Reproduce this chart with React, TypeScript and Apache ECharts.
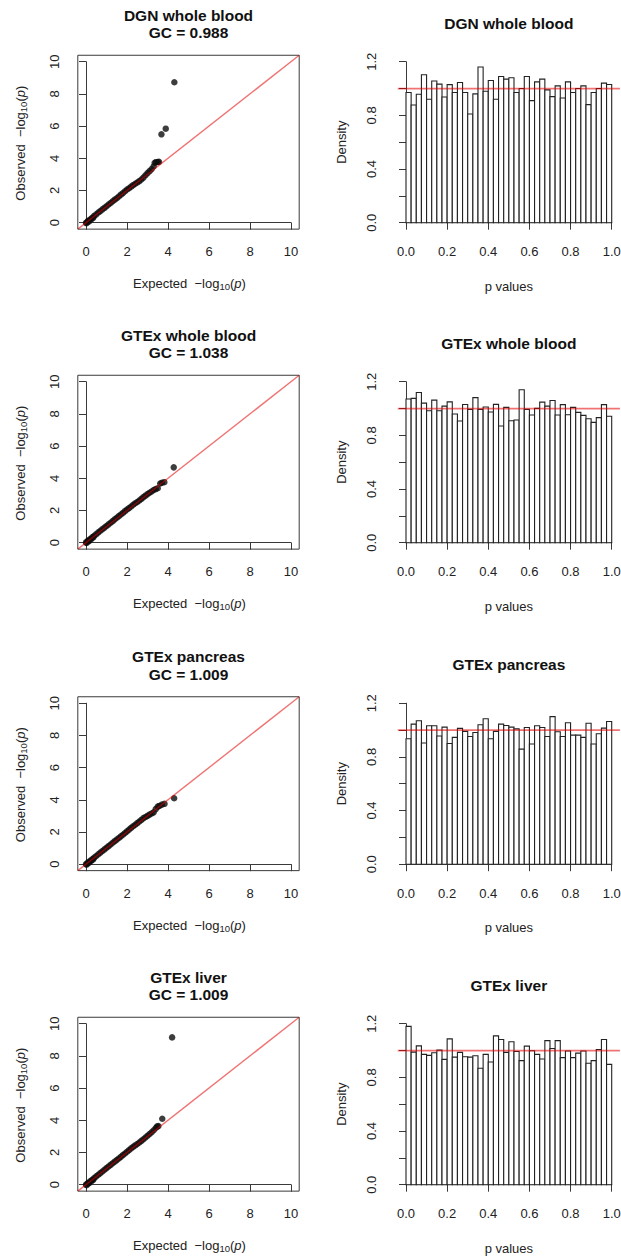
import React, { useEffect, useRef } from "react";
import * as echarts from "echarts";

const FONT = '"Liberation Sans", Arial, Helvetica, sans-serif';

// ---------- data ----------
const PANEL_NAMES = ["DGN whole blood", "GTEx whole blood", "GTEx pancreas", "GTEx liver"];
const GC_VALUES = ["0.988", "1.038", "1.009", "1.009"];

// QQ plots: [expected -log10(p), observed -log10(p)]
const QQ_DGN = [
  [0, 0.0], [0.03, -0.03], [0.08, 0.06], [0.1, 0.12], [0.15, 0.08], [0.2, 0.2], [0.25, 0.2], [0.3, 0.31],
  [0.35, 0.3], [0.4, 0.42], [0.5, 0.52], [0.6, 0.63], [0.7, 0.72], [0.8, 0.83], [0.9, 0.92], [1.0, 1.02],
  [1.1, 1.13], [1.2, 1.22], [1.3, 1.33], [1.4, 1.43], [1.5, 1.52], [1.6, 1.63], [1.7, 1.74], [1.8, 1.84],
  [1.9, 1.95], [2.0, 2.06], [2.1, 2.14], [2.2, 2.24], [2.3, 2.33], [2.4, 2.42], [2.5, 2.5], [2.6, 2.58],
  [2.7, 2.68], [2.8, 2.8], [2.9, 2.95], [3.0, 3.08], [3.1, 3.2], [3.2, 3.33], [3.3, 3.5], [3.35, 3.72],
  [3.42, 3.76], [3.5, 3.77], [3.56, 3.78], [3.68, 5.49], [3.89, 5.84], [4.31, 8.72],
];
const QQ_GTEX_BLOOD = [
  [0, 0.02], [0.03, -0.02], [0.08, 0.08], [0.1, 0.13], [0.15, 0.1], [0.2, 0.23], [0.25, 0.22], [0.3, 0.33],
  [0.35, 0.32], [0.4, 0.43], [0.5, 0.53], [0.6, 0.64], [0.7, 0.74], [0.8, 0.84], [0.9, 0.94], [1.0, 1.04],
  [1.1, 1.14], [1.2, 1.24], [1.3, 1.34], [1.4, 1.45], [1.5, 1.55], [1.6, 1.65], [1.7, 1.75], [1.8, 1.85],
  [1.9, 1.96], [2.0, 2.06], [2.1, 2.15], [2.2, 2.25], [2.3, 2.36], [2.4, 2.45], [2.5, 2.53], [2.6, 2.62],
  [2.7, 2.72], [2.8, 2.83], [2.9, 2.92], [3.0, 3.02], [3.1, 3.1], [3.2, 3.18], [3.3, 3.27], [3.4, 3.33],
  [3.5, 3.38], [3.62, 3.68], [3.7, 3.72], [3.82, 3.76], [4.28, 4.68],
];
const QQ_GTEX_PANCREAS = [
  [0, 0.01], [0.03, -0.03], [0.08, 0.06], [0.1, 0.11], [0.15, 0.09], [0.2, 0.21], [0.25, 0.2], [0.3, 0.31],
  [0.35, 0.3], [0.4, 0.41], [0.5, 0.51], [0.6, 0.62], [0.7, 0.72], [0.8, 0.82], [0.9, 0.92], [1.0, 1.02],
  [1.1, 1.12], [1.2, 1.22], [1.3, 1.33], [1.4, 1.43], [1.5, 1.53], [1.6, 1.63], [1.7, 1.73], [1.8, 1.83],
  [1.9, 1.94], [2.0, 2.04], [2.1, 2.15], [2.2, 2.26], [2.3, 2.36], [2.4, 2.45], [2.5, 2.55], [2.6, 2.65],
  [2.7, 2.75], [2.8, 2.86], [2.9, 2.93], [3.0, 3.0], [3.1, 3.08], [3.2, 3.15], [3.3, 3.22], [3.4, 3.42],
  [3.5, 3.58], [3.58, 3.62], [3.7, 3.7], [3.83, 3.75], [4.3, 4.1],
];
const QQ_GTEX_LIVER = [
  [0, 0.01], [0.03, -0.03], [0.08, 0.06], [0.1, 0.11], [0.15, 0.09], [0.2, 0.21], [0.25, 0.2], [0.3, 0.31],
  [0.35, 0.3], [0.4, 0.41], [0.5, 0.52], [0.6, 0.62], [0.7, 0.72], [0.8, 0.82], [0.9, 0.93], [1.0, 1.03],
  [1.1, 1.13], [1.2, 1.23], [1.3, 1.33], [1.4, 1.43], [1.5, 1.53], [1.6, 1.63], [1.7, 1.73], [1.8, 1.84],
  [1.9, 1.94], [2.0, 2.05], [2.1, 2.15], [2.2, 2.26], [2.3, 2.35], [2.4, 2.44], [2.5, 2.53], [2.6, 2.62],
  [2.7, 2.72], [2.8, 2.82], [2.9, 2.93], [3.0, 3.04], [3.1, 3.15], [3.2, 3.26], [3.3, 3.38], [3.4, 3.52],
  [3.47, 3.62], [3.53, 3.64], [3.72, 4.1], [4.2, 9.15],
];

// Histograms of p values: density per bin (40 bins of width 0.025 on [0, 1])
const HIST_BIN_WIDTH = 0.025;
const HIST_DGN = [
  0.97, 0.877, 0.957, 1.103, 0.92, 1.056, 1.033, 0.937, 1.029, 0.97,
  1.045, 0.97, 0.81, 0.96, 1.16, 0.98, 1.06, 0.92, 1.09, 1.07,
  1.08, 0.97, 1.0, 1.09, 0.91, 1.05, 1.07, 0.99, 0.94, 1.02,
  0.93, 1.05, 0.97, 1.0, 1.02, 0.88, 0.97, 1.0, 1.04, 1.03,
];
const HIST_GTEX_BLOOD = [
  1.071, 1.076, 1.12, 1.04, 0.984, 1.063, 0.984, 1.018, 1.05, 0.959,
  0.907, 1.03, 0.994, 1.081, 0.994, 1.011, 0.974, 1.031, 0.87, 1.009,
  0.909, 0.914, 1.14, 0.994, 0.952, 1.001, 1.048, 1.018, 1.06, 0.952,
  1.029, 0.954, 1.009, 0.971, 0.949, 0.924, 0.897, 0.932, 1.029, 0.942,
];
const HIST_GTEX_PANCREAS = [
  0.935, 1.044, 1.069, 0.903, 1.032, 1.032, 0.955, 1.022, 0.9, 0.945,
  1.012, 0.99, 0.952, 0.982, 1.039, 1.084, 0.935, 0.99, 1.044, 1.034,
  1.022, 1.009, 0.858, 1.019, 0.896, 1.032, 1.019, 0.952, 1.1, 0.987,
  0.952, 1.054, 0.962, 0.962, 0.945, 1.051, 0.896, 0.972, 1.014, 1.064,
];
const HIST_GTEX_LIVER = [
  1.18, 0.988, 1.035, 0.971, 0.964, 0.983, 1.003, 0.934, 1.087, 0.951,
  0.986, 0.954, 0.951, 0.961, 0.868, 0.971, 0.915, 1.109, 1.082, 0.986,
  1.065, 0.993, 0.925, 1.033, 0.998, 0.971, 0.937, 1.074, 1.015, 1.074,
  0.947, 0.996, 0.947, 0.981, 0.996, 0.905, 0.925, 1.008, 1.082, 0.897,
];

const QQ_SETS = [QQ_DGN, QQ_GTEX_BLOOD, QQ_GTEX_PANCREAS, QQ_GTEX_LIVER];
const HIST_SETS = [HIST_DGN, HIST_GTEX_BLOOD, HIST_GTEX_PANCREAS, HIST_GTEX_LIVER];

// axis ranges (R style: 4% extension around the data range)
const QQ_MIN = 0, QQ_MAX = 10, QQ_STEP = 2, QQ_EXT = 0.4;
const HX_MIN = 0, HX_MAX = 1, HX_STEP = 0.2, HX_EXT = 0.04;
const HY_MIN = 0, HY_MAX = 1.2, HY_STEP = 0.2, HY_EXT = 0.048;
const REF_DENSITY = 1;

// ---------- layout ----------
const W = 621, H = 1257;
const ROW_OFFSETS = [0, 320, 641.5, 962];
const QQ_INNER = { left: 86, top: 61.7, width: 205, height: 161 };
const HIST_INNER = { left: 406, top: 61.7, width: 205.7, height: 161 };
const AXIS_COLOR = "#3a3a3a";
const TEXT_COLOR = "#222";
const RED = "rgba(225, 0, 0, 0.55)";

function outerOf(inner: any, xExt: number, xSpan: number, yExt: number, ySpan: number) {
  const px = inner.width / xSpan, py = inner.height / ySpan;
  return {
    left: inner.left - xExt * px,
    top: inner.top - yExt * py,
    width: inner.width + 2 * xExt * px,
    height: inner.height + 2 * yExt * py,
    offX: yExt * py,
    offY: xExt * px,
  };
}

function buildOption() {
  const grid: any[] = [], xAxis: any[] = [], yAxis: any[] = [], series: any[] = [], graphic: any[] = [];
  const labelStyle = { fontSize: 13, color: TEXT_COLOR, fontFamily: FONT };
  const axisLineStyle = { color: AXIS_COLOR, width: 1 };

  ROW_OFFSETS.forEach((dy, r) => {
    const base = r * 4;
    const qqIn = { ...QQ_INNER, top: QQ_INNER.top + dy };
    const qqOut = outerOf(qqIn, QQ_EXT, QQ_MAX - QQ_MIN, QQ_EXT, QQ_MAX - QQ_MIN);
    const hIn = { ...HIST_INNER, top: HIST_INNER.top + dy };
    const hOut = outerOf(hIn, HX_EXT, HX_MAX - HX_MIN, HY_EXT, HY_MAX - HY_MIN);

    // grids
    grid.push({ left: qqOut.left, top: qqOut.top, width: qqOut.width, height: qqOut.height, show: true,
      borderColor: AXIS_COLOR, borderWidth: 1, backgroundColor: "transparent", containLabel: false, outerBoundsMode: "none" });
    grid.push({ left: qqIn.left, top: qqIn.top, width: qqIn.width, height: qqIn.height, containLabel: false, outerBoundsMode: "none" });
    grid.push({ left: hOut.left, top: hOut.top, width: hOut.width, height: hOut.height, containLabel: false, outerBoundsMode: "none" });
    grid.push({ left: hIn.left, top: hIn.top, width: hIn.width, height: hIn.height, containLabel: false, outerBoundsMode: "none" });

    // hidden data axes (outer regions)
    xAxis.push({ gridIndex: base, type: "value", min: QQ_MIN - QQ_EXT, max: QQ_MAX + QQ_EXT, show: false });
    yAxis.push({ gridIndex: base, type: "value", min: QQ_MIN - QQ_EXT, max: QQ_MAX + QQ_EXT, show: false });

    // visible QQ axes
    xAxis.push({
      gridIndex: base + 1, type: "value", min: QQ_MIN, max: QQ_MAX, interval: QQ_STEP, position: "bottom",
      offset: qqOut.offX, axisLine: { show: true, lineStyle: axisLineStyle },
      axisTick: { show: true, length: 7, lineStyle: axisLineStyle }, splitLine: { show: false },
      axisLabel: { ...labelStyle, margin: 16, formatter: (v: number) => String(Math.round(v)) },
    });
    yAxis.push({
      gridIndex: base + 1, type: "value", min: QQ_MIN, max: QQ_MAX, interval: QQ_STEP, position: "left",
      offset: qqOut.offY, axisLine: { show: true, lineStyle: axisLineStyle },
      axisTick: { show: true, length: 7, lineStyle: axisLineStyle }, splitLine: { show: false },
      axisLabel: { ...labelStyle, margin: 17, rotate: 90, formatter: (v: number) => String(Math.round(v)) },
    });

    // hidden hist outer axes
    xAxis.push({ gridIndex: base + 2, type: "value", min: HX_MIN - HX_EXT, max: HX_MAX + HX_EXT, show: false });
    yAxis.push({ gridIndex: base + 2, type: "value", min: HY_MIN - HY_EXT, max: HY_MAX + HY_EXT, show: false });

    // visible hist axes
    xAxis.push({
      gridIndex: base + 3, type: "value", min: HX_MIN, max: HX_MAX, interval: HX_STEP, position: "bottom",
      offset: hOut.offX, axisLine: { show: true, lineStyle: axisLineStyle },
      axisTick: { show: true, length: 7, lineStyle: axisLineStyle }, splitLine: { show: false },
      axisLabel: { ...labelStyle, margin: 16, formatter: (v: number) => v.toFixed(1) },
    });
    yAxis.push({
      gridIndex: base + 3, type: "value", min: HY_MIN, max: HY_MAX, interval: HY_STEP, position: "left",
      offset: hOut.offY, axisLine: { show: true, lineStyle: axisLineStyle },
      axisTick: { show: true, length: 7, lineStyle: axisLineStyle }, splitLine: { show: false },
      axisLabel: {
        ...labelStyle, margin: 20, rotate: 90,
        formatter: (v: number) => (Math.round(v * 10) % 4 === 0 ? v.toFixed(1) : ""),
      },
    });

    // QQ points
    series.push({
      type: "scatter", xAxisIndex: base, yAxisIndex: base, data: QQ_SETS[r], symbol: "circle",
      symbolSize: 6.5, itemStyle: { color: "#0c0c0c" }, silent: true, clip: false, z: 2,
    });
    // y = x reference line
    series.push({
      type: "line", xAxisIndex: base, yAxisIndex: base,
      data: [[QQ_MIN - QQ_EXT, QQ_MIN - QQ_EXT], [QQ_MAX + QQ_EXT, QQ_MAX + QQ_EXT]],
      showSymbol: false, symbol: "none", lineStyle: { color: RED, width: 1.4 }, silent: true, z: 3,
    });
    // histogram bars
    series.push({
      type: "custom", xAxisIndex: base + 3, yAxisIndex: base + 3,
      data: HIST_SETS[r].map((d, i) => [i * HIST_BIN_WIDTH, (i + 1) * HIST_BIN_WIDTH, d]),
      encode: { x: [0, 1], y: 2 }, silent: true, z: 2,
      renderItem: (_p: any, api: any) => {
        const a = api.coord([api.value(0), api.value(2)]);
        const b = api.coord([api.value(1), 0]);
        return {
          type: "rect",
          shape: { x: a[0], y: a[1], width: b[0] - a[0], height: b[1] - a[1] },
          style: { fill: "#fff", stroke: "#222", lineWidth: 1.1 },
        };
      },
    });
    // density = 1 reference line
    series.push({
      type: "line", xAxisIndex: base + 2, yAxisIndex: base + 2,
      data: [[HX_MIN - HX_EXT, REF_DENSITY], [HX_MAX + HX_EXT, REF_DENSITY]],
      showSymbol: false, symbol: "none", lineStyle: { color: RED, width: 1.8 }, silent: true, z: 3,
    });

    // titles
    const qqCx = qqOut.left + qqOut.width / 2;
    const hCx = hOut.left + hOut.width / 2;
    const titleStyle = { fontSize: 15.5, fontWeight: "bold", fontFamily: FONT, fill: "#111" };
    graphic.push({
      type: "text", x: qqCx, y: 15 + dy,
      style: { ...titleStyle, text: PANEL_NAMES[r], align: "center", verticalAlign: "middle", textAlign: "center", textVerticalAlign: "middle" },
    });
    graphic.push({
      type: "text", x: qqCx, y: 32.5 + dy,
      style: { ...titleStyle, text: "GC = " + GC_VALUES[r], align: "center", verticalAlign: "middle", textAlign: "center", textVerticalAlign: "middle" },
    });
    graphic.push({
      type: "text", x: hCx, y: 23 + dy,
      style: { ...titleStyle, text: PANEL_NAMES[r], align: "center", verticalAlign: "middle", textAlign: "center", textVerticalAlign: "middle" },
    });

    // axis titles
    const rich = {
      s: { fontSize: 9.5, lineHeight: 8, verticalAlign: "bottom", fontFamily: FONT, fill: TEXT_COLOR },
      i: { fontSize: 13, lineHeight: 16, fontStyle: "italic", fontFamily: FONT, fill: TEXT_COLOR },
    };
    const axTitle = { fontSize: 13, lineHeight: 16, fontFamily: FONT, fill: TEXT_COLOR };
    graphic.push({
      type: "text", x: qqCx + 1, y: 283.5 + dy,
      style: { ...axTitle, text: "Expected  \u2212log{s|10}({i|p})", rich, align: "center", verticalAlign: "middle", textAlign: "center", textVerticalAlign: "middle" },
    });
    graphic.push({
      type: "text", x: 20, y: qqOut.top + qqOut.height / 2 + 1, rotation: Math.PI / 2,
      style: { ...axTitle, text: "Observed  \u2212log{s|10}({i|p})", rich, align: "center", verticalAlign: "middle", textAlign: "center", textVerticalAlign: "middle" },
    });
    graphic.push({
      type: "text", x: hIn.left + hIn.width / 2, y: 286 + dy,
      style: { ...axTitle, text: "p values", align: "center", verticalAlign: "middle", textAlign: "center", textVerticalAlign: "middle" },
    });
    graphic.push({
      type: "text", x: 341.7, y: hOut.top + hOut.height / 2, rotation: Math.PI / 2,
      style: { ...axTitle, text: "Density", align: "center", verticalAlign: "middle", textAlign: "center", textVerticalAlign: "middle" },
    });
  });

  return {
    animation: false,
    backgroundColor: "#ffffff",
    textStyle: { fontFamily: FONT },
    grid, xAxis, yAxis, series, graphic,
  };
}

export default function App() {
  const ref = useRef<HTMLDivElement | null>(null);
  useEffect(() => {
    document.body.style.margin = "0";
    if (!ref.current) return;
    const chart = echarts.init(ref.current, undefined, { renderer: "svg", width: W, height: H });
    chart.setOption(buildOption() as any);
    return () => chart.dispose();
  }, []);
  return <div ref={ref} style={{ width: W, height: H, background: "#fff" }} />;
}
